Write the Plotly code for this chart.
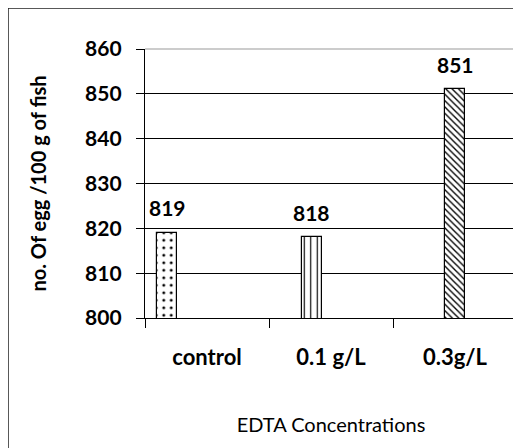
import plotly.graph_objects as go

categories = ["control", "0.1 g/L", "0.3g/L"]
values = [819, 818, 851]
labels = ["819", "818", "851"]
patterns = [".", "|", "\\"]
pattern_sizes = [7.5, 6.5, 4.5]
pattern_solidity = [0.12, 0.18, 0.3]
bar_offsets = [-0.40, -0.235, -0.08]
bar_width = 0.16
y_ticks = [800, 810, 820, 830, 840, 850, 860]

FONT = "Lato"
W, H = 521, 448
ML, MR, MT, MB = 137, 12, 41, 138
plot_w = W - ML - MR
cat_px = plot_w / len(categories)

fig = go.Figure()
for i, cat in enumerate(categories):
    fig.add_trace(go.Bar(
        x=[cat], y=[values[i]],
        width=bar_width, offset=bar_offsets[i],
        marker=dict(color="white", line=dict(color="black", width=1.2),
                    pattern=dict(shape=patterns[i], size=pattern_sizes[i],
                                 solidity=pattern_solidity[i], fgcolor="black",
                                 bgcolor="white", fillmode="replace")),
        showlegend=False,
    ))

annotations = []
for i, cat in enumerate(categories):
    annotations.append(dict(
        x=cat, y=values[i], xref="x", yref="y",
        text=labels[i], showarrow=False,
        xshift=(bar_offsets[i] + bar_width / 2) * cat_px,
        yanchor="middle", yshift=25,
        font=dict(family=FONT, size=21, color="black", weight="bold"),
    ))

fig.update_layout(
    width=W, height=H,
    margin=dict(l=ML, r=MR, t=MT, b=MB, autoexpand=False),
    paper_bgcolor="white", plot_bgcolor="white",
    font=dict(family=FONT, color="black"),
    bargap=0,
    annotations=annotations,
    xaxis=dict(
        categoryorder="array", categoryarray=categories,
        range=[-0.5, 2.5], automargin=False,
        showline=True, linecolor="black", linewidth=1.3,
        ticks="outside", tickson="boundaries", ticklen=9, tickcolor="black", tickwidth=1.3,
        tickfont=dict(family=FONT, size=22, weight="bold"),
        ticklabelstandoff=19,
        showgrid=False,
        title=dict(text="EDTA Concentrations", font=dict(family=FONT, size=20), standoff=49),
    ),
    yaxis=dict(
        range=[800, 860], tickvals=y_ticks, automargin=False,
        showline=True, linecolor="black", linewidth=1.3,
        ticks="outside", ticklen=8, tickcolor="black", tickwidth=1.3,
        tickfont=dict(family=FONT, size=21, weight="bold"),
        ticklabelstandoff=10,
        showgrid=True, gridcolor="black", gridwidth=1,
        zeroline=False,
        title=dict(text="no. Of egg /100 g of fish", font=dict(family=FONT, size=20, weight="bold"), standoff=33),
    ),
    shapes=[
        dict(type="path", xref="paper", yref="paper",
             path="M 0,1 L 1,1 L 1,0", line=dict(color="#999999", width=1.2), layer="above"),
        dict(type="rect", xref="paper", yref="paper",
             x0=-ML / plot_w, y0=-0.6, x1=1.2, y1=1 + MT / (H - MT - MB),
             line=dict(color="#222222", width=1.5)),
    ],
)

fig.write_html("out.html")
